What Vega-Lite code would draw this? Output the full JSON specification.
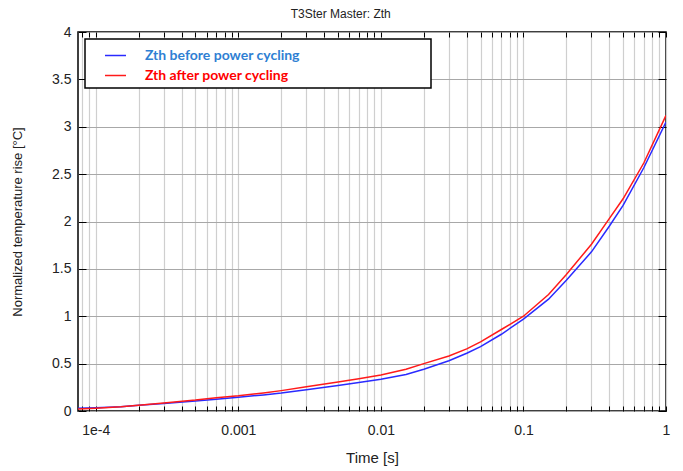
{
  "$schema": "https://vega.github.io/schema/vega-lite/v6.json",
  "width": 588,
  "height": 379,
  "autosize": {"type": "none"},
  "padding": {"left": 78, "top": 32, "right": 17, "bottom": 60},
  "background": "white",
  "title": {"text": "T3Ster Master: Zth", "frame": "bounds", "anchor": "middle", "fontSize": 12, "fontWeight": "normal", "font": "Liberation Sans", "color": "#222222", "offset": 4},
  "config": {
    "view": {"stroke": "#000000", "strokeWidth": 1.5},
    "axis": {"labelFont": "Liberation Sans", "labelFontSize": 14, "labelColor": "#222222", "titleFont": "Liberation Sans", "titleFontSize": 15, "titleFontWeight": "normal", "titleColor": "#222222", "domain": false, "tickColor": "#000000", "labelOverlap": false, "labelFlush": false}
  },
  "data": {"values": [
    {"t": 0.000075, "z": 0.03, "s": "Zth before power cycling"},
    {"t": 0.0001, "z": 0.035, "s": "Zth before power cycling"},
    {"t": 0.00015, "z": 0.045, "s": "Zth before power cycling"},
    {"t": 0.0002, "z": 0.06, "s": "Zth before power cycling"},
    {"t": 0.0003, "z": 0.08, "s": "Zth before power cycling"},
    {"t": 0.0005, "z": 0.105, "s": "Zth before power cycling"},
    {"t": 0.0007, "z": 0.125, "s": "Zth before power cycling"},
    {"t": 0.001, "z": 0.145, "s": "Zth before power cycling"},
    {"t": 0.0015, "z": 0.17, "s": "Zth before power cycling"},
    {"t": 0.002, "z": 0.19, "s": "Zth before power cycling"},
    {"t": 0.003, "z": 0.225, "s": "Zth before power cycling"},
    {"t": 0.005, "z": 0.27, "s": "Zth before power cycling"},
    {"t": 0.007, "z": 0.3, "s": "Zth before power cycling"},
    {"t": 0.01, "z": 0.335, "s": "Zth before power cycling"},
    {"t": 0.015, "z": 0.385, "s": "Zth before power cycling"},
    {"t": 0.02, "z": 0.44, "s": "Zth before power cycling"},
    {"t": 0.03, "z": 0.53, "s": "Zth before power cycling"},
    {"t": 0.04, "z": 0.61, "s": "Zth before power cycling"},
    {"t": 0.05, "z": 0.68, "s": "Zth before power cycling"},
    {"t": 0.07, "z": 0.81, "s": "Zth before power cycling"},
    {"t": 0.1, "z": 0.97, "s": "Zth before power cycling"},
    {"t": 0.15, "z": 1.18, "s": "Zth before power cycling"},
    {"t": 0.2, "z": 1.38, "s": "Zth before power cycling"},
    {"t": 0.3, "z": 1.68, "s": "Zth before power cycling"},
    {"t": 0.4, "z": 1.95, "s": "Zth before power cycling"},
    {"t": 0.5, "z": 2.17, "s": "Zth before power cycling"},
    {"t": 0.7, "z": 2.57, "s": "Zth before power cycling"},
    {"t": 1.0, "z": 3.05, "s": "Zth before power cycling"},
    {"t": 0.000075, "z": 0.02, "s": "Zth after power cycling"},
    {"t": 0.0001, "z": 0.03, "s": "Zth after power cycling"},
    {"t": 0.00015, "z": 0.045, "s": "Zth after power cycling"},
    {"t": 0.0002, "z": 0.06, "s": "Zth after power cycling"},
    {"t": 0.0003, "z": 0.085, "s": "Zth after power cycling"},
    {"t": 0.0005, "z": 0.115, "s": "Zth after power cycling"},
    {"t": 0.0007, "z": 0.14, "s": "Zth after power cycling"},
    {"t": 0.001, "z": 0.16, "s": "Zth after power cycling"},
    {"t": 0.0015, "z": 0.19, "s": "Zth after power cycling"},
    {"t": 0.002, "z": 0.215, "s": "Zth after power cycling"},
    {"t": 0.003, "z": 0.255, "s": "Zth after power cycling"},
    {"t": 0.005, "z": 0.305, "s": "Zth after power cycling"},
    {"t": 0.007, "z": 0.34, "s": "Zth after power cycling"},
    {"t": 0.01, "z": 0.38, "s": "Zth after power cycling"},
    {"t": 0.015, "z": 0.44, "s": "Zth after power cycling"},
    {"t": 0.02, "z": 0.5, "s": "Zth after power cycling"},
    {"t": 0.03, "z": 0.58, "s": "Zth after power cycling"},
    {"t": 0.04, "z": 0.655, "s": "Zth after power cycling"},
    {"t": 0.05, "z": 0.73, "s": "Zth after power cycling"},
    {"t": 0.07, "z": 0.86, "s": "Zth after power cycling"},
    {"t": 0.1, "z": 1.0, "s": "Zth after power cycling"},
    {"t": 0.15, "z": 1.23, "s": "Zth after power cycling"},
    {"t": 0.2, "z": 1.44, "s": "Zth after power cycling"},
    {"t": 0.3, "z": 1.76, "s": "Zth after power cycling"},
    {"t": 0.4, "z": 2.03, "s": "Zth after power cycling"},
    {"t": 0.5, "z": 2.24, "s": "Zth after power cycling"},
    {"t": 0.7, "z": 2.62, "s": "Zth after power cycling"},
    {"t": 1.0, "z": 3.12, "s": "Zth after power cycling"}
  ]},
  "layer": [
    {
      "mark": {"type": "point", "opacity": 0},
      "encoding": {
        "x": {"field": "t", "type": "quantitative", "scale": {"type": "log", "domain": [0.000075, 1], "nice": false},
          "axis": {"orient": "top", "values": [0.00008, 0.00009, 0.0001, 0.0002, 0.0003, 0.0004, 0.0005, 0.0006, 0.0007, 0.0008, 0.0009, 0.001, 0.002, 0.003, 0.004, 0.005, 0.006, 0.007, 0.008, 0.009, 0.01, 0.02, 0.03, 0.04, 0.05, 0.06, 0.07, 0.08, 0.09, 0.1, 0.2, 0.3, 0.4, 0.5, 0.6, 0.7, 0.8, 0.9, 1], "labels": false, "grid": false, "tickSize": -5, "title": null}},
        "y": {"field": "z", "type": "quantitative", "scale": {"domain": [0, 4], "nice": false},
          "axis": {"orient": "right", "values": [0, 0.5, 1, 1.5, 2, 2.5, 3, 3.5, 4], "labels": false, "grid": false, "tickSize": -8, "title": null}}
      }
    },
    {
      "mark": {"type": "line", "strokeWidth": 1.5, "clip": true},
      "encoding": {
        "x": {"field": "t", "type": "quantitative", "scale": {"type": "log", "domain": [0.000075, 1], "nice": false},
          "axis": {"orient": "bottom", "title": "Time [s]", "titlePadding": 13, "values": [0.00008, 0.00009, 0.0001, 0.0002, 0.0003, 0.0004, 0.0005, 0.0006, 0.0007, 0.0008, 0.0009, 0.001, 0.002, 0.003, 0.004, 0.005, 0.006, 0.007, 0.008, 0.009, 0.01, 0.02, 0.03, 0.04, 0.05, 0.06, 0.07, 0.08, 0.09, 0.1, 0.2, 0.3, 0.4, 0.5, 0.6, 0.7, 0.8, 0.9, 1],
            "labelExpr": "abs(log(datum.value)/LN10 - round(log(datum.value)/LN10)) < 0.001 ? (datum.value < 0.0005 ? '1e-4' : format(datum.value, '~g')) : ''",
            "grid": true, "gridColor": "#cfcfcf", "gridWidth": 1.2, "tickSize": -5, "labelPadding": 17}},
        "y": {"field": "z", "type": "quantitative", "scale": {"domain": [0, 4], "nice": false},
          "axis": {"orient": "left", "title": "Normalized temperature rise [°C]", "titleFontSize": 13, "titlePadding": 27, "values": [0, 0.5, 1, 1.5, 2, 2.5, 3, 3.5, 4], "format": "~g", "grid": true, "gridColor": "#a8a8a8", "gridWidth": 1.2, "tickSize": -8, "labelPadding": 15}},
        "color": {"field": "s", "type": "nominal", "sort": ["Zth before power cycling", "Zth after power cycling"],
          "scale": {"domain": ["Zth before power cycling", "Zth after power cycling"], "range": ["#2a2aff", "#ff1a1a"]},
          "legend": {"title": null, "orient": "top-left", "offset": 7, "padding": 5, "strokeColor": "#000000", "fillColor": "#ffffff",
            "symbolType": "stroke", "symbolSize": 440, "symbolStrokeWidth": 1.5, "symbolOffset": 14, "labelOffset": 18, "rowPadding": 1,
            "labelFont": "Lato", "labelFontSize": 14, "labelFontWeight": "bold", "labelLimit": 0,
            "labelExpr": "datum.label + '\u2003\u2003\u2003\u2003\u2003\u2003\u2003\u2003\u2003\u2003\u2003\u2003\u200b'",
            "encode": {
              "legend": {"update": {"strokeWidth": {"value": 1.5}}},
              "labels": {"update": {"fill": {"signal": "datum.value == 'Zth before power cycling' ? '#2f7fd3' : '#ff0000'"}}}
            }}}
      }
    }
  ],
  "resolve": {"axis": {"x": "independent", "y": "independent"}}
}
